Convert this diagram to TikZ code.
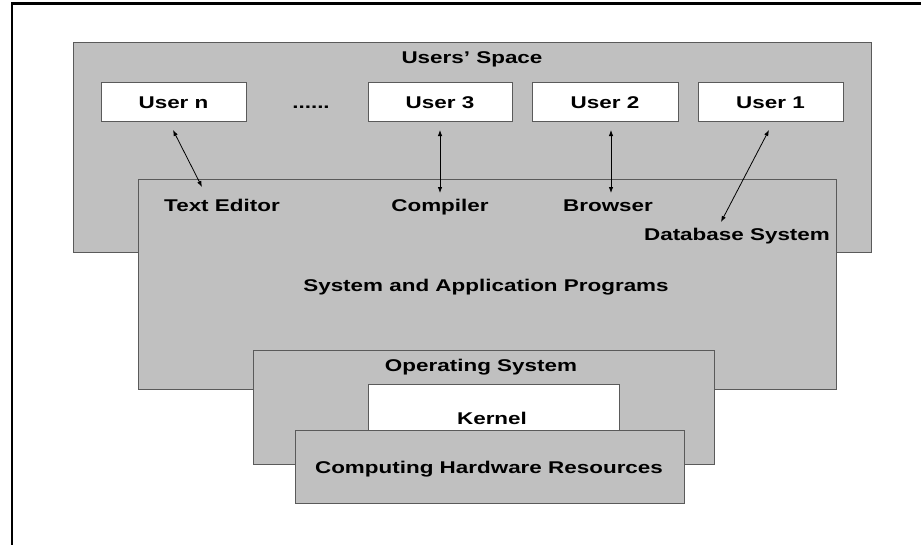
\documentclass[tikz,border=0pt]{standalone}
\usepackage{fontspec}
\setmainfont[FakeStretch=1.32]{Liberation Sans}
\usetikzlibrary{arrows.meta}
\definecolor{panel}{HTML}{C0C0C0}
\definecolor{edge}{HTML}{5A5A5A}
\tikzset{
  box/.style={draw=edge, fill=panel, line width=1.2pt, inner sep=0pt, anchor=north west},
  whitebox/.style={box, fill=white},
  lbl/.style={inner sep=0pt, anchor=base, font=\fontsize{17}{20}\selectfont\bfseries},
  link/.style={line width=0.8pt, {Latex[length=6pt,width=4.5pt]}-{Latex[length=6pt,width=4.5pt]}}
}
\begin{document}
\begin{tikzpicture}[x=1pt,y=-1pt]
  \useasboundingbox (0,0) rectangle (921,544);
  \clip (0,0) rectangle (921,544);
  % outer frame
  \draw[line width=2.2pt] (12,3.5) rectangle (940,570);

  % users' space with the user boxes
  \node[box, minimum width=798pt, minimum height=210pt] (users) at (73,42) {};
  \node[whitebox, minimum width=145pt, minimum height=39pt] (usern) at (101,82) {};
  \node[whitebox, minimum width=144pt, minimum height=39pt] (user3) at (368,82) {};
  \node[whitebox, minimum width=146pt, minimum height=39pt] (user2) at (532,82) {};
  \node[whitebox, minimum width=145pt, minimum height=39pt] (user1) at (698,82) {};

  % layers below
  \node[box, minimum width=698pt, minimum height=210pt] (apps) at (138,179) {};
  \node[box, minimum width=461pt, minimum height=114pt] (os) at (253,350) {};
  \node[whitebox, minimum width=251pt, minimum height=60pt] (kernel) at (368,384) {};
  \node[box, minimum width=389pt, minimum height=73pt] (hw) at (295,430) {};

  % texts
  \node[lbl] (tusers) at (472,63.5) {Users’ Space};
  \node[lbl] (tusern) at (173.5,108) {User n};
  \node[lbl] (tdots) at (311,108) {......};
  \node[lbl] (tuser3) at (440,108) {User 3};
  \node[lbl] (tuser2) at (605,108) {User 2};
  \node[lbl] (tuser1) at (770.5,108) {User 1};
  \node[lbl] (tedit) at (222,211) {Text Editor};
  \node[lbl] (tcomp) at (440,211) {Compiler};
  \node[lbl] (tbrow) at (608,211) {Browser};
  \node[lbl] (tdb) at (737,240.5) {Database System};
  \node[lbl] (tapps) at (486,291) {System and Application Programs};
  \node[lbl] (tos) at (481,371) {Operating System};
  \node[lbl] (tkern) at (492,424) {Kernel};
  \node[lbl] (thw) at (489,473.5) {Computing Hardware Resources};

  % arrow ends
  \coordinate (an-u) at (173,130);
  \coordinate (an-p) at (202,187);
  \coordinate (a3-u) at (440,130);
  \coordinate (a3-p) at (440,193);
  \coordinate (a2-u) at (611,130);
  \coordinate (a2-p) at (611,193);
  \coordinate (a1-u) at (769,130);
  \coordinate (a1-p) at (721,222);

  \draw[link] (an-u) -- (an-p);
  \draw[link] (a3-u) -- (a3-p);
  \draw[link] (a2-u) -- (a2-p);
  \draw[link] (a1-u) -- (a1-p);
\end{tikzpicture}
\end{document}
